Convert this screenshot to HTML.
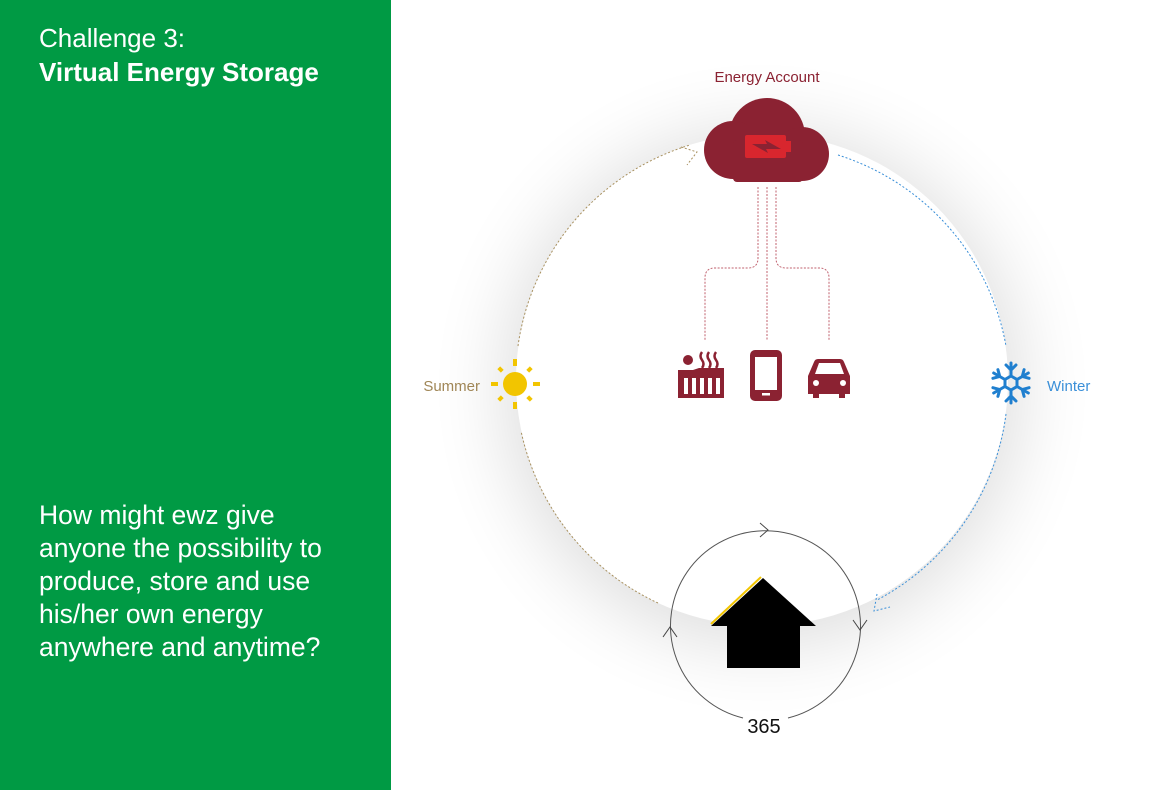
<!DOCTYPE html>
<html><head><meta charset="utf-8"><style>
html,body{margin:0;padding:0;width:1155px;height:790px;overflow:hidden;background:#fff;font-family:"Liberation Sans",sans-serif}
#left{position:absolute;left:0;top:0;width:391px;height:790px;background:#009a44;color:#fff;z-index:2}
.t1{position:absolute;left:39px;top:21px;font-size:26px;line-height:34px}
.t2{position:absolute;left:39px;top:499px;font-size:26.5px;line-height:33px}
svg{position:absolute;left:0;top:0}
</style></head><body>
<div id="left">
<div class="t1">Challenge 3:<br><b>Virtual Energy Storage</b></div>
<div class="t2">How might ewz give<br>anyone the possibility to<br>produce, store and use<br>his/her own energy<br>anywhere and anytime?</div>
</div>
<svg width="1155" height="790" viewBox="0 0 1155 790">
<defs>
<filter id="sh" x="-50%" y="-50%" width="200%" height="200%"><feGaussianBlur stdDeviation="38"/></filter>
</defs>
<circle cx="762" cy="388" r="258" fill="#000" opacity="0.13" filter="url(#sh)"/>
<circle cx="762" cy="380" r="246" fill="#fff"/>
<!-- arcs -->
<g fill="none" stroke="#a8905e" stroke-width="1" stroke-dasharray="2,2">
<path d="M658,603 A246,246 0 0 1 521,431"/>
<path d="M518,346 A246,246 0 0 1 690,145"/>
<polyline points="681,147 697,152 687,165"/>
</g>
<g fill="none" stroke="#3a8fd8" stroke-width="1" stroke-dasharray="2,2">
<path d="M838,155 A246,246 0 0 1 1006,346"/>
<path d="M1006,414 A246,246 0 0 1 877,600"/>
<polyline points="877,594 874,611 890,607"/>
</g>
<!-- summer -->
<text x="480" y="391" font-size="15" fill="#a08656" text-anchor="end">Summer</text>
<g fill="#f2c500">
<circle cx="515" cy="384" r="12"/>
<rect x="513" y="359" width="4" height="7"/><rect x="513" y="402" width="4" height="7"/>
<rect x="491" y="382" width="7" height="4"/><rect x="533" y="382" width="7" height="4"/>
<g transform="rotate(45 515 384)"><rect x="513" y="361" width="4" height="5"/><rect x="513" y="402" width="4" height="5"/><rect x="492" y="382" width="5" height="4"/><rect x="533" y="382" width="5" height="4"/></g>
</g>
<!-- winter -->
<text x="1047" y="391" font-size="15" fill="#3a8fd8">Winter</text>
<g stroke="#1f7fcf" stroke-width="3" fill="none" stroke-linecap="round">
<g id="arm"><line x1="1011" y1="375" x2="1011" y2="363"/><polyline points="1006,365 1011,370 1016,365"/></g>
<use href="#arm" transform="rotate(60 1011 383)"/><use href="#arm" transform="rotate(120 1011 383)"/><use href="#arm" transform="rotate(180 1011 383)"/><use href="#arm" transform="rotate(240 1011 383)"/><use href="#arm" transform="rotate(300 1011 383)"/>
<polygon points="1011,376 1017,379.5 1017,386.5 1011,390 1005,386.5 1005,379.5"/>
</g>
<!-- cloud -->
<text x="767" y="82" font-size="15" fill="#8b2232" text-anchor="middle">Energy Account</text>
<g fill="#8b2232">
<circle cx="767" cy="136" r="38"/><circle cx="733" cy="150" r="29"/><circle cx="802" cy="154" r="27"/>
<rect x="733" y="140" width="70" height="42" rx="4"/>
</g>
<rect x="745" y="135" width="41" height="23" rx="2" fill="#d8262e"/><rect x="786" y="141" width="5" height="11" fill="#d8262e"/>
<polygon points="752,144 767,144 765,140 781,149 766,149 768,153" fill="#8b2232"/>
<!-- dotted connectors -->
<g fill="none" stroke="#c0606e" stroke-width="1" stroke-dasharray="2,1.5">
<line x1="767" y1="187" x2="767" y2="340"/>
<path d="M758,187 V258 Q758,268 748,268 H715 Q705,268 705,278 V340"/>
<path d="M776,187 V258 Q776,268 786,268 H819 Q829,268 829,278 V340"/>
</g>
<!-- icons -->
<g fill="#8b2232">
<circle cx="688" cy="360" r="5"/>
<path d="M678,370 h15 l6,-2 h25 v30 h-46z"/>
<g fill="#fff"><rect x="684" y="378" width="4" height="16"/><rect x="692" y="378" width="4" height="16"/><rect x="700" y="378" width="4" height="16"/><rect x="708" y="378" width="4" height="16"/><rect x="716" y="378" width="4" height="16"/></g>
<g stroke="#8b2232" stroke-width="2.5" fill="none"><path d="M702,352 q-3,4 0,8 q3,4 0,8"/><path d="M709,352 q-3,4 0,8 q3,4 0,8"/><path d="M716,352 q-3,4 0,8 q3,4 0,8"/></g>
<rect x="750" y="350" width="32" height="51" rx="5"/>
<rect x="755" y="357" width="22" height="33" fill="#fff"/>
<rect x="762" y="393" width="8" height="2.5" fill="#fff"/>
<path d="M808,376 l6,-14 q1,-3 4,-3 h22 q3,0 4,3 l6,14 v18 h-5 v4 h-6 v-4 h-20 v4 h-6 v-4 h-5z"/>
<path d="M815,374 l4,-11 h21 l4,11z" fill="#fff"/>
<circle cx="816" cy="383" r="3" fill="#fff"/><circle cx="843" cy="383" r="3" fill="#fff"/>
</g>
<!-- small circle -->
<path d="M743,718 A95,95 0 1 1 788,718" fill="none" stroke="#555" stroke-width="1"/>
<polyline points="760,523 768,530 760,537" fill="none" stroke="#444" stroke-width="1"/>
<polyline points="853,620 860,630 867,620" fill="none" stroke="#444" stroke-width="1"/>
<polyline points="663,637 670,627 677,637" fill="none" stroke="#444" stroke-width="1"/>
<text x="764" y="733" font-size="20" fill="#111" text-anchor="middle">365</text>
<!-- house -->
<polygon points="763,578 816,626 800,626 800,668 727,668 727,626 711,626" fill="#000"/>
<line x1="711" y1="624" x2="761" y2="577" stroke="#f2c500" stroke-width="2"/>
</svg>
</body></html>
